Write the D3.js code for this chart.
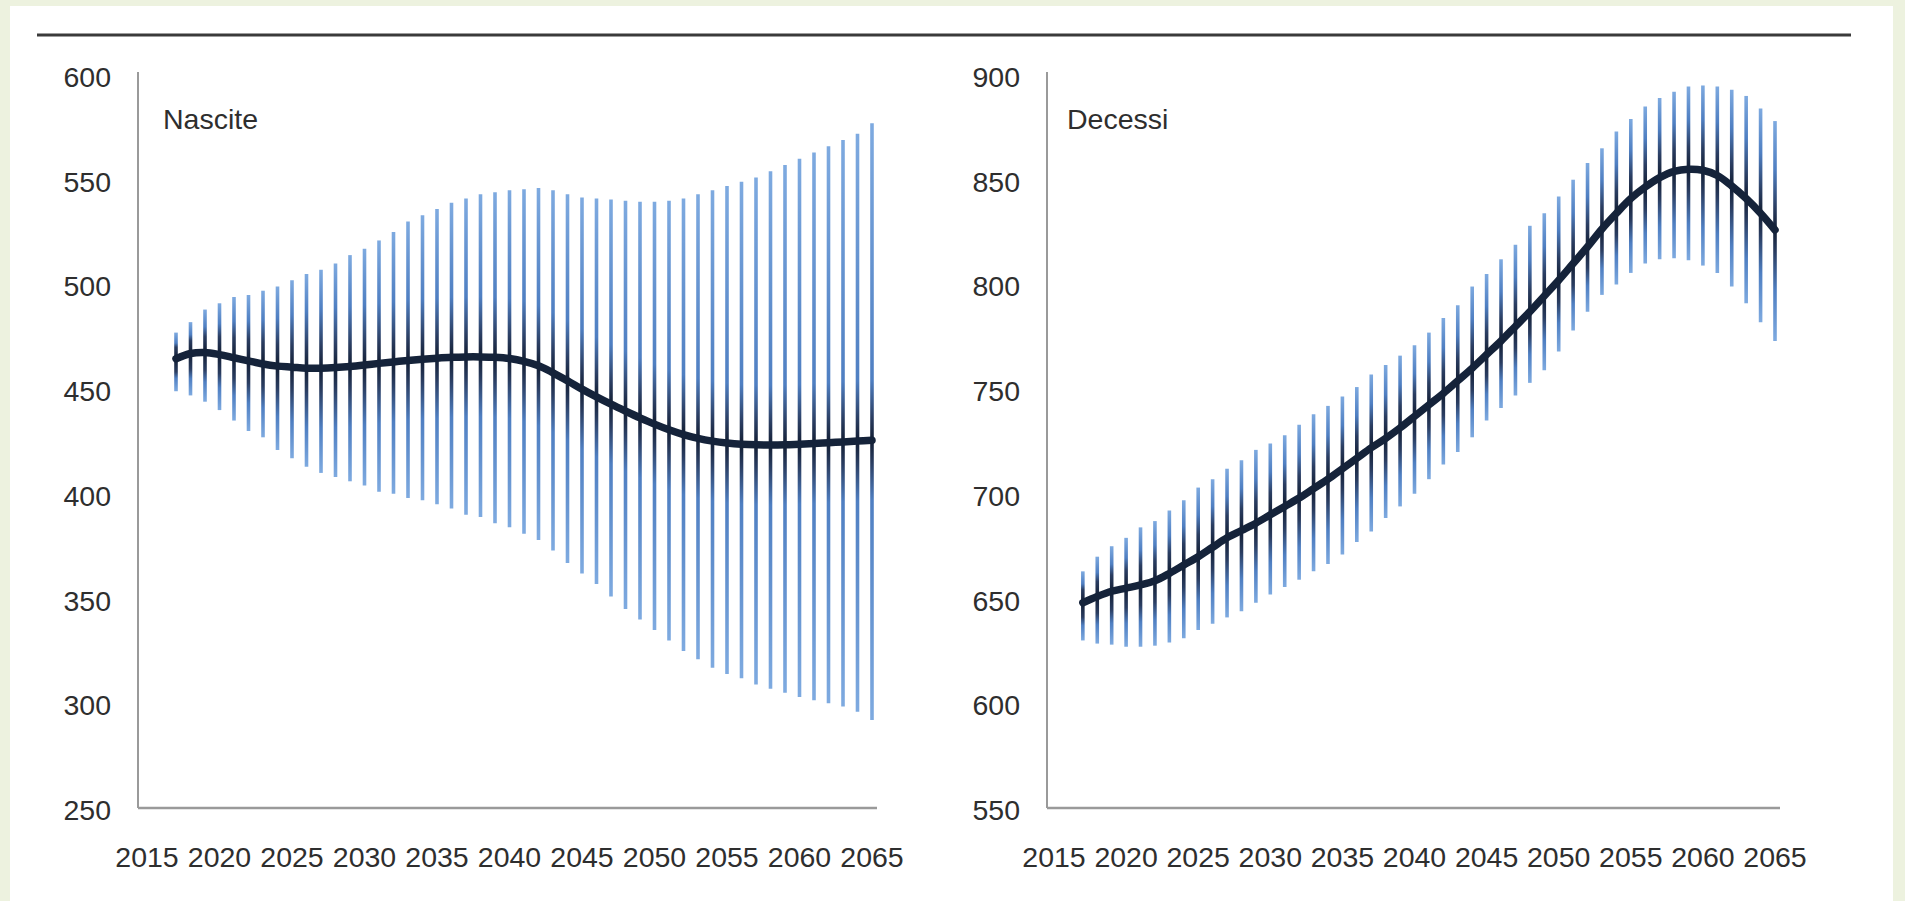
<!DOCTYPE html>
<html>
<head>
<meta charset="utf-8">
<script src="https://cdn.jsdelivr.net/npm/d3@7"></script>
<style>
  html, body { margin: 0; padding: 0; background: #edf2df; overflow: hidden; }
  svg { display: block; }
  text { font-family: 'Liberation Sans', Arial, sans-serif; fill: #2e2e2e; }
</style>
</head>
<body>
<svg id="chart" width="1905" height="901"></svg>
<script>
// Nascite / Decessi projections, median with uncertainty range (thousands)

const years = [
  2017,2018,2019,2020,2021,2022,2023,2024,2025,2026,2027,2028,2029,2030,2031,2032,
  2033,2034,2035,2036,2037,2038,2039,2040,2041,2042,2043,2044,2045,2046,2047,2048,
  2049,2050,2051,2052,2053,2054,2055,2056,2057,2058,2059,2060,2061,2062,2063,2064,2065
];

const xTicks = [2015,2020,2025,2030,2035,2040,2045,2050,2055,2060,2065];
const nasciteTicks = [250,300,350,400,450,500,550,600];
const decessiTicks = [550,600,650,700,750,800,850,900];

const nasciteMed = [
  464.5,467,467.5,466.5,465,463.5,462,461,460.5,460,460,460.3,460.8,461.5,462.3,463,
  463.7,464.3,464.8,465.2,465.4,465.4,465.2,464.6,463.3,461.2,457.8,454,450,446.3,442.8,439.5,
  436.3,433.3,430.6,428.3,426.5,425.2,424.3,423.7,423.4,423.3,423.4,423.7,424,424.4,424.8,425.2,425.6
];
const nasciteHigh = [
  477,482,488,491,494,495,497,499,502,505,507,510,514,517,521,525,
  530,533,536,539,541,543,544,545,545.5,546,545,543,541.5,541,540.5,540,
  539.5,539.5,540,541,543,545,547,549,551,554,557,560,563,566,569,572,577
];
const nasciteLow = [
  449,447,444,440,435,430,427,421,417,413,410,408,406,404,401,400,
  398,397,395,393,390,389,386,384,381,378,373,367,362,357,351,345,
  340,335,330,325,321,317,314,312,309,307,305,303,301.5,300,298.5,296,292
];

const decessiMed = [
  648,651,653.5,655,656.5,658.5,662,666,670,674.5,679,682.5,686,690,694,698,
  702.5,707,712,717,722,726.5,731.5,737,742.5,748,754,760,766.5,773,780,787,
  794.5,802,810,818,826.5,834,841,846.5,851,854,855,854.5,852,847,841,834,826
];
const decessiHigh = [
  663,670,675,679,684,687,692,697,703,707,712,716,721,724,728,733,
  738,742,746.5,751,757,761.5,766,771,777,784,790,799,805,812,819,828,
  834,842,850,858,865,873,879,885,889,892,894.5,895,894.5,893,890,884,878
];
const decessiLow = [
  630,628.5,628,627,627,627.5,629,631,635,638,641,644,648,652,655.5,659,
  663,666.5,671,677,682,688.5,694,700,707,714,720,727,735,741,747,753,
  759,768,778,787,795,800,805.5,810,812,812.5,811.5,809,805.5,799,791,782,773
];

const svg = d3.select('#chart');
const defs = svg.append('defs');

// white page with thin tinted margin
svg.append('rect').attr('x', 10).attr('y', 6).attr('width', 1883).attr('height', 895).attr('fill', '#fff');
svg.append('line').attr('x1', 37).attr('x2', 1851).attr('y1', 35).attr('y2', 35)
  .attr('stroke', '#3a3a3a').attr('stroke-width', 3.2);

const panels = [
  { id: 'n', title: 'Nascite', ticks: nasciteTicks, med: nasciteMed, hi: nasciteHigh, lo: nasciteLow,
    axisX: 138, xr: [147, 872], axisEnd: 877, titleX: 163 },
  { id: 'd', title: 'Decessi', ticks: decessiTicks, med: decessiMed, hi: decessiHigh, lo: decessiLow,
    axisX: 1047, xr: [1054, 1775], axisEnd: 1780, titleX: 1067 },
];

const LIGHT = '#7eaae0', MID = '#4f7fc2', DARKISH = '#2a3d61', DARK = '#131e33';

panels.forEach(p => {
  const x = d3.scaleLinear().domain([2015, 2065]).range(p.xr);
  const y = d3.scaleLinear().domain(d3.extent(p.ticks)).range([808, 75]);
  const g = svg.append('g');

  // axes
  g.append('line').attr('x1', p.axisX).attr('x2', p.axisX).attr('y1', y(p.ticks[p.ticks.length - 1]) - 3).attr('y2', y(p.ticks[0]))
    .attr('stroke', '#9a9a9a').attr('stroke-width', 2);
  g.append('line').attr('x1', p.axisX).attr('x2', p.axisEnd).attr('y1', y(p.ticks[0])).attr('y2', y(p.ticks[0]))
    .attr('stroke', '#9a9a9a').attr('stroke-width', 2.4);

  g.selectAll('.ylab').data(p.ticks).join('text')
    .attr('class', 'ylab')
    .attr('x', p.axisX - 27).attr('y', d => y(d) + 2)
    .attr('text-anchor', 'end').attr('dominant-baseline', 'central')
    .style('font-size', '28.5px').text(d => d);

  g.selectAll('.xlab').data(xTicks).join('text')
    .attr('class', 'xlab')
    .attr('x', d => x(d)).attr('y', 857)
    .attr('text-anchor', 'middle').attr('dominant-baseline', 'central')
    .style('font-size', '28.5px').text(d => d);

  g.append('text').attr('x', p.titleX).attr('y', 119).attr('dominant-baseline', 'central')
    .style('font-size', '28.5px').text(p.title);

  // per-spike gradients: light at the ends, dark around the median
  const rows = years.map((yr, i) => ({ yr, i, med: p.med[i], hi: p.hi[i], lo: p.lo[i] }));
  const clamp = v => Math.max(0, Math.min(1, v));
  rows.forEach(r => {
    const yh = y(r.hi), yl = y(r.lo), ym = y(r.med);
    const len = yl - yh;
    const a = ym - yh, b = yl - ym;
    const off = v => clamp((v - yh) / len);
    const grad = defs.append('linearGradient').attr('id', `g${p.id}${r.i}`)
      .attr('gradientUnits', 'userSpaceOnUse')
      .attr('x1', 0).attr('x2', 0).attr('y1', yh).attr('y2', yl);
    const stops = [
      [0, LIGHT],
      [off(ym - Math.min(0.6 * a, 60)), MID],
      [off(ym - Math.min(0.25 * a + 5, 22)), DARKISH],
      [off(ym), DARK],
      [off(ym + Math.min(0.25 * b + 5, 22)), DARKISH],
      [off(ym + Math.min(0.6 * b, 60)), MID],
      [1, LIGHT]
    ];
    grad.selectAll('stop').data(stops).join('stop')
      .attr('offset', s => s[0]).attr('stop-color', s => s[1]);
  });

  g.selectAll('.spike').data(rows).join('line')
    .attr('class', 'spike')
    .attr('x1', r => x(r.yr)).attr('x2', r => x(r.yr))
    .attr('y1', r => y(r.hi)).attr('y2', r => y(r.lo))
    .attr('stroke', r => `url(#g${p.id}${r.i})`)
    .attr('stroke-width', 3.6);

  const line = d3.line().x(r => x(r.yr)).y(r => y(r.med)).curve(d3.curveCatmullRom.alpha(0.5));
  g.append('path').datum(rows).attr('d', line)
    .attr('fill', 'none').attr('stroke', '#15233a').attr('stroke-width', 7.5)
    .attr('stroke-linecap', 'round').attr('stroke-linejoin', 'round');
});
</script>
</body>
</html>
